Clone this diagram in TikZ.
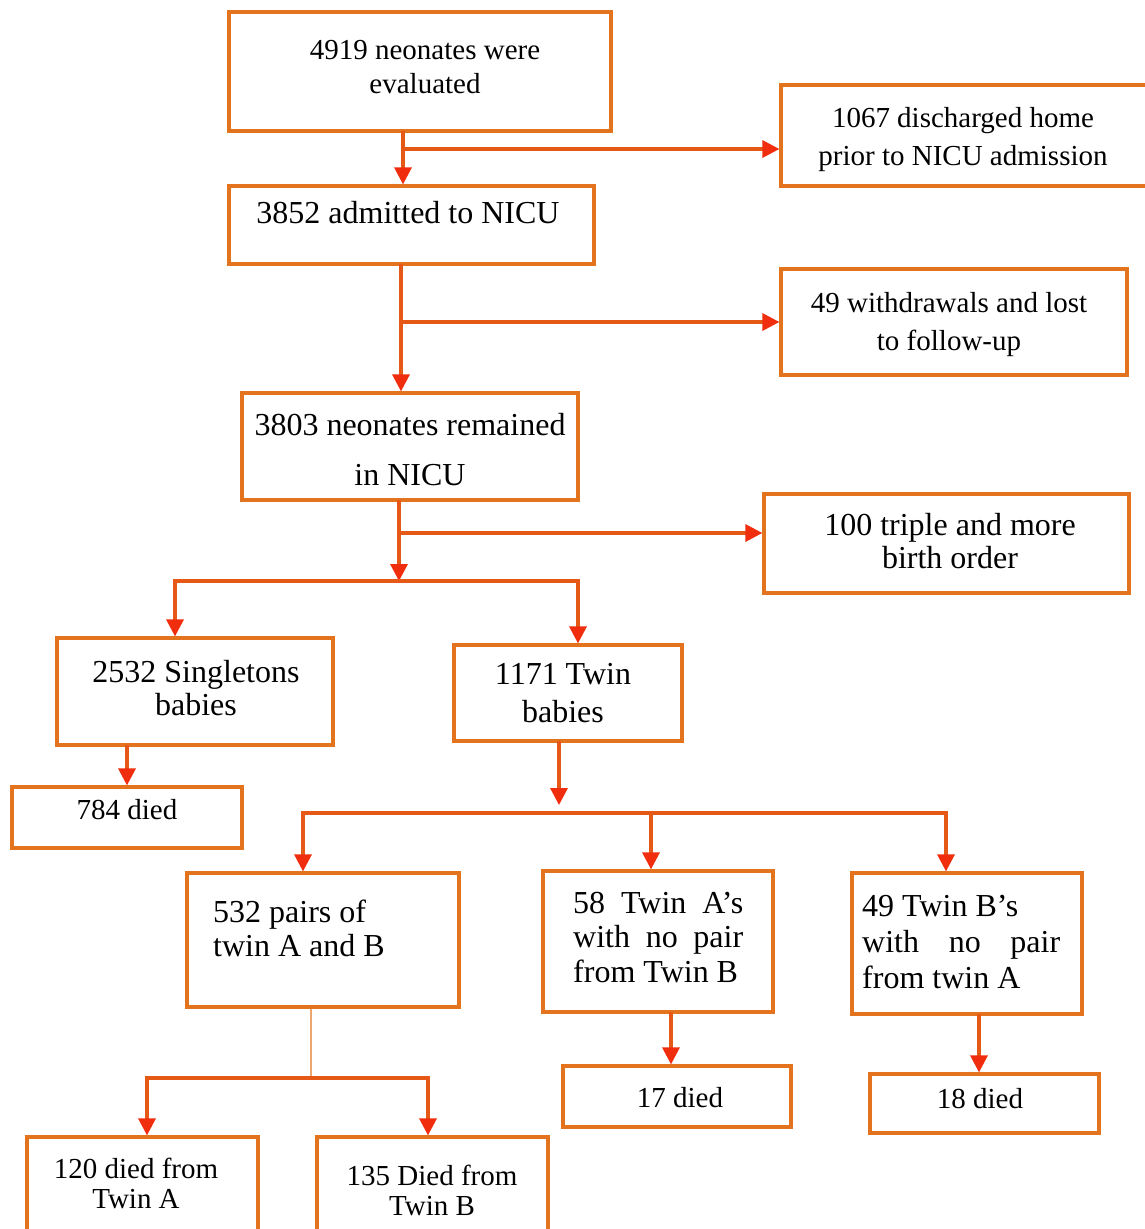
\documentclass[tikz,border=0pt]{standalone}
\usepackage{fontspec}
\setmainfont{Liberation Serif}
\usetikzlibrary{arrows.meta,fit}
\definecolor{boxc}{RGB}{228,115,30}
\definecolor{linec}{RGB}{230,88,22}
\definecolor{tipc}{RGB}{240,45,12}
\definecolor{thinc}{RGB}{235,165,110}
\newcommand\tb[2]{\begin{tabular}[t]{@{}#1@{}}#2\end{tabular}}
\newcommand\fs[2]{\fontsize{#1}{#2}\selectfont}
\begin{document}
\begin{tikzpicture}[x=1pt,y=-1pt,
  box/.style={draw=boxc,line width=3.2pt,inner sep=0pt},
  lbl/.style={anchor=base,inner sep=0pt},
  lbll/.style={anchor=base west,inner sep=0pt},
  ln/.style={draw=linec,line width=3.2pt,line cap=rect},
  arr/.style={ln,-{Triangle[width=17pt,length=17pt,color=tipc]}},
  thinln/.style={draw=thinc,line width=1.8pt}]
\useasboundingbox (0,0) rectangle (1145,1229);
% boxes
\node[box,fit={(229,12)(611,131)}] (b1) {};
\node[box,fit={(781,85)(1152,186)}] (b2) {};
\node[box,fit={(229,186)(594,264)}] (b3) {};
\node[box,fit={(781,269)(1127,375)}] (b4) {};
\node[box,fit={(242,393)(578,500)}] (b5) {};
\node[box,fit={(764,494)(1129,593)}] (b6) {};
\node[box,fit={(57,638)(333,745)}] (b7) {};
\node[box,fit={(454,645)(682,741)}] (b8) {};
\node[box,fit={(12,787)(242,848)}] (b9) {};
\node[box,fit={(187,873)(459,1007)}] (b10) {};
\node[box,fit={(543,871)(773,1012)}] (b11) {};
\node[box,fit={(852,873)(1082,1014)}] (b12) {};
\node[box,fit={(563,1066)(791,1127)}] (b13) {};
\node[box,fit={(870,1074)(1099,1133)}] (b14) {};
\node[box,fit={(27,1137)(258,1250)}] (b15) {};
\node[box,fit={(317,1137)(548,1250)}] (b16) {};
% texts
\node[lbl,font=\fs{29}{34}] (t1) at (425,59) {\tb{c}{4919 neonates were\\evaluated}};
\node[lbl,font=\fs{29}{38}] (t2) at (963,127) {\tb{c}{1067 discharged home\\prior to NICU admission}};
\node[lbl,font=\fs{32}{38}] (t3) at (408,223) {3852 admitted to NICU};
\node[lbl,font=\fs{29}{38}] (t4) at (949,312) {\tb{c}{49 withdrawals and lost\\to follow-up}};
\node[lbl,font=\fs{32}{50}] (t5) at (410,435) {\tb{c}{3803 neonates remained\\in NICU}};
\node[lbl,font=\fs{32}{33}] (t6) at (950,535) {\tb{c}{100 triple and more\\birth order}};
\node[lbl,font=\fs{32}{33}] (t7) at (196,682) {\tb{c}{2532 Singletons\\babies}};
\node[lbl,font=\fs{32}{38}] (t8) at (563,684) {\tb{c}{1171 Twin\\babies}};
\node[lbl,font=\fs{29}{34}] (t9) at (127,819) {784 died};
\node[lbll,font=\fs{32}{34}] (t10) at (213,922) {\tb{l}{532 pairs of\\twin A and B}};
\node[lbll,font=\fs{32}{34.5}] (t11) at (573,913) {\tb{l}{\makebox[170pt][s]{58 Twin A’s}\\\makebox[170pt][s]{with no pair}\\from Twin B}};
\node[lbll,font=\fs{32}{36}] (t12) at (862,916) {\tb{l}{49 Twin B’s\\\makebox[198pt][s]{with no pair}\\from twin A}};
\node[lbl,font=\fs{29}{34}] (t13) at (680,1107) {17 died};
\node[lbl,font=\fs{29}{34}] (t14) at (980,1108) {18 died};
\node[lbl,font=\fs{29}{30}] (t15) at (136,1178) {\tb{c}{120 died from\\Twin A}};
\node[lbl,font=\fs{29}{30}] (t16) at (432,1185) {\tb{c}{135 Died from\\Twin B}};
% connectors
\coordinate (j1) at (403,149);
\draw[arr] (b1.south -| j1) -- (b3.north -| j1);
\draw[arr] (j1) -- (b2.west |- j1);
\coordinate (j2) at (401,322);
\draw[arr] (b3.south -| j2) -- (b5.north -| j2);
\draw[arr] (j2) -- (b4.west |- j2);
\coordinate (j3) at (399,533);
\coordinate (j4) at (399,581);
\draw[arr] (b5.south -| j3) -- (j4);
\draw[arr] (j3) -- (b6.west |- j3);
\coordinate (l1) at (175,581);
\coordinate (r1) at (578,581);
\draw[ln] (l1) -- (r1);
\draw[arr] (l1) -- (b7.north -| l1);
\draw[arr] (r1) -- (b8.north -| r1);
\draw[arr] (b9.north |- b7.south) -- (b9.north);
\coordinate (j5) at (559,805);
\draw[arr] (b8.south -| j5) -- (j5);
\coordinate (l2) at (303,813);
\coordinate (m2) at (651,813);
\coordinate (r2) at (946,813);
\draw[ln] (l2) -- (r2);
\draw[arr] (l2) -- (b10.north -| l2);
\draw[arr] (m2) -- (b11.north -| m2);
\draw[arr] (r2) -- (b12.north -| r2);
\coordinate (k13) at (671,1040);
\coordinate (k14) at (979,1040);
\draw[arr] (b11.south -| k13) -- (b13.north -| k13);
\draw[arr] (b12.south -| k14) -- (b14.north -| k14);
\coordinate (j6) at (311,1078);
\draw[thinln] (b10.south -| j6) -- (j6);
\coordinate (l3) at (147,1078);
\coordinate (r3) at (428,1078);
\draw[ln] (l3) -- (r3);
\draw[arr] (l3) -- (b15.north -| l3);
\draw[arr] (r3) -- (b16.north -| r3);
\end{tikzpicture}
\end{document}
